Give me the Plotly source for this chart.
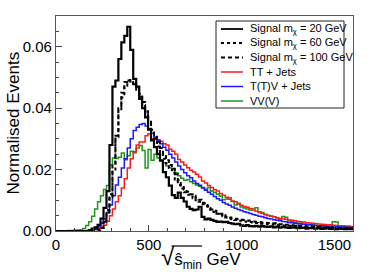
import numpy as np
import plotly.graph_objects as go

# ---- data (Normalised Events per 16 GeV bin, 0..1600 GeV) ----
BIN_LO = 0
BIN_HI = 1600
N_BINS = 100

sig20 = [0, 0, 0, 0, 0, 0, 0, 0, 0, 0,
         0, 0.0003, 0.0008, 0.0012, 0.002, 0.004, 0.0075, 0.013, 0.028, 0.047,
         0.049, 0.056, 0.0614, 0.0635, 0.0665, 0.059, 0.0495, 0.047, 0.043, 0.040,
         0.037, 0.033, 0.0295, 0.0273, 0.025, 0.023, 0.0192, 0.0175, 0.0148, 0.0117,
         0.0108, 0.0125, 0.0108, 0.0096, 0.0079, 0.0072, 0.0068, 0.0070, 0.0079, 0.0046,
         0.0038, 0.0040, 0.0036, 0.0033, 0.0030, 0.0031, 0.0029, 0.0030, 0.0026, 0.0024,
         0.0022, 0.0023, 0.0018, 0.0017, 0.0019, 0.0016, 0.0015, 0.0017, 0.0014, 0.0016,
         0.0014, 0.0013, 0.0015, 0.0012, 0.0014, 0.0011, 0.0013, 0.0012, 0.0010, 0.0012,
         0.0011, 0.0009, 0.0010, 0.0011, 0.0008, 0.0010, 0.0009, 0.0008, 0.0010, 0.0007,
         0.0008, 0.0009, 0.0007, 0.0008, 0.0006, 0.0008, 0.0007, 0.0006, 0.0007, 0.0006]

sig60 = [0, 0, 0, 0, 0, 0, 0, 0, 0, 0,
         0, 0, 0, 0, 0, 0.001, 0.0035, 0.0068, 0.011, 0.020,
         0.0305, 0.039, 0.0435, 0.0473, 0.049, 0.0484, 0.048, 0.047, 0.0445, 0.041,
         0.0385, 0.0355, 0.032, 0.030, 0.0275, 0.0255, 0.0235, 0.022, 0.0205, 0.019,
         0.0168, 0.0150, 0.0138, 0.0126, 0.0118, 0.0112, 0.0107, 0.0100, 0.0095, 0.0087,
         0.0082, 0.0075, 0.0068, 0.0062, 0.0056, 0.0052, 0.0048, 0.0044, 0.0041, 0.0038,
         0.0036, 0.0034, 0.0033, 0.0031, 0.0030, 0.0029, 0.0028, 0.0026, 0.0025, 0.0024,
         0.0023, 0.0022, 0.0022, 0.0021, 0.0020, 0.0019, 0.0018, 0.0018, 0.0017, 0.0016,
         0.0016, 0.0015, 0.0014, 0.0014, 0.0013, 0.0013, 0.0012, 0.0012, 0.0011, 0.0011,
         0.0010, 0.0010, 0.0010, 0.0009, 0.0009, 0.0009, 0.0008, 0.0008, 0.0008, 0.0007]

sig100 = [0, 0, 0, 0, 0, 0, 0, 0, 0, 0,
          0, 0, 0, 0, 0.0005, 0.001, 0.003, 0.006, 0.012, 0.022,
          0.031, 0.040, 0.045, 0.0485, 0.0492, 0.048, 0.0478, 0.046, 0.0437, 0.042,
          0.039, 0.036, 0.033, 0.031, 0.029, 0.027, 0.025, 0.023, 0.0215, 0.0203,
          0.0185, 0.0165, 0.0148, 0.0135, 0.0128, 0.0120, 0.0115, 0.0108, 0.0102, 0.0092,
          0.0085, 0.0080, 0.0070, 0.0066, 0.0060, 0.0056, 0.0052, 0.0047, 0.0044, 0.0041,
          0.0040, 0.0038, 0.0037, 0.0036, 0.0034, 0.0033, 0.0031, 0.0030, 0.0029, 0.0028,
          0.0027, 0.0026, 0.0025, 0.0025, 0.0024, 0.0022, 0.0021, 0.0020, 0.0020, 0.0019,
          0.0018, 0.0017, 0.0017, 0.0016, 0.0015, 0.0015, 0.0014, 0.0014, 0.0013, 0.0013,
          0.0012, 0.0012, 0.0011, 0.0011, 0.0010, 0.0010, 0.0010, 0.0009, 0.0009, 0.0009]

tt_jets = [0, 0, 0, 0, 0, 0, 0, 0, 0, 0,
           0, 0, 0.0003, 0.0005, 0.0008, 0.0012, 0.0019, 0.0032, 0.0050, 0.0072,
           0.0095, 0.0115, 0.0140, 0.0170, 0.0205, 0.0235, 0.0258, 0.0280, 0.0290, 0.0290,
           0.0310, 0.0317, 0.0300, 0.0306, 0.0297, 0.0292, 0.0284, 0.0280, 0.0266, 0.0260,
           0.0250, 0.0233, 0.0225, 0.0215, 0.0206, 0.0198, 0.0192, 0.0185, 0.0176, 0.0163,
           0.0156, 0.0148, 0.0142, 0.0134, 0.0130, 0.0122, 0.0116, 0.0110, 0.0103, 0.0098,
           0.0095, 0.0088, 0.0084, 0.0080, 0.0077, 0.0073, 0.0068, 0.0064, 0.0060, 0.0057,
           0.0054, 0.0050, 0.0049, 0.0046, 0.0043, 0.0041, 0.0040, 0.0038, 0.0036, 0.0035,
           0.0033, 0.0031, 0.0030, 0.0029, 0.0027, 0.0026, 0.0025, 0.0024, 0.0023, 0.0022,
           0.0021, 0.0020, 0.0020, 0.0019, 0.0018, 0.0017, 0.0017, 0.0016, 0.0016, 0.0015]

ttv_jets = [0, 0, 0, 0, 0, 0, 0, 0, 0, 0,
            0, 0.0003, 0.0005, 0.0009, 0.0014, 0.0025, 0.0040, 0.0060, 0.0085, 0.0115,
            0.0150, 0.0175, 0.0205, 0.0235, 0.0270, 0.0300, 0.0327, 0.0338, 0.0347, 0.0350,
            0.0342, 0.0333, 0.0318, 0.0305, 0.0295, 0.0284, 0.0273, 0.0263, 0.0250, 0.0238,
            0.0225, 0.0212, 0.0200, 0.0190, 0.0180, 0.0173, 0.0163, 0.0155, 0.0149, 0.0140,
            0.0133, 0.0126, 0.0120, 0.0112, 0.0105, 0.0100, 0.0093, 0.0088, 0.0084, 0.0078,
            0.0074, 0.0070, 0.0067, 0.0063, 0.0060, 0.0057, 0.0054, 0.0051, 0.0048, 0.0046,
            0.0043, 0.0041, 0.0039, 0.0037, 0.0035, 0.0033, 0.0031, 0.0030, 0.0028, 0.0027,
            0.0025, 0.0024, 0.0023, 0.0022, 0.0021, 0.0020, 0.0019, 0.0018, 0.0017, 0.0017,
            0.0016, 0.0015, 0.0015, 0.0014, 0.0014, 0.0013, 0.0013, 0.0012, 0.0012, 0.0011]

vvv = [0, 0, 0, 0, 0.0002, 0.0002, 0.0003, 0.0003, 0.0004, 0.0008,
       0.0018, 0.0030, 0.0048, 0.0072, 0.0095, 0.0115, 0.0135, 0.0148, 0.0215, 0.0238,
       0.0236, 0.0240, 0.0254, 0.0232, 0.0245, 0.0260, 0.0255, 0.0270, 0.0278, 0.0262,
       0.0205, 0.0265, 0.0230, 0.0250, 0.0238, 0.0228, 0.0222, 0.0212, 0.0206, 0.0200,
       0.0190, 0.0180, 0.0172, 0.0165, 0.0168, 0.0160, 0.0155, 0.0150, 0.0146, 0.0142,
       0.0136, 0.0142, 0.0130, 0.0125, 0.0120, 0.0113, 0.0102, 0.0104, 0.0108, 0.0096,
       0.0085, 0.0090, 0.0078, 0.0075, 0.0072, 0.0068, 0.0072, 0.0076, 0.0063, 0.0060,
       0.0054, 0.0051, 0.0048, 0.0046, 0.0042, 0.0037, 0.0047, 0.0045, 0.0034, 0.0030,
       0.0028, 0.0025, 0.0026, 0.0022, 0.0021, 0.0020, 0.0022, 0.0018, 0.0017, 0.0019,
       0.0020, 0.0016, 0.0015, 0.0030, 0.0029, 0.0014, 0.0017, 0.0015, 0.0012, 0.0013]

series_names = ["Signal m<sub>χ</sub> = 20 GeV", "Signal m<sub>χ</sub> = 60 GeV",
                "Signal m<sub>χ</sub> = 100 GeV", "TT + Jets", "T(T)V + Jets", "VV(V)"]

x_ticks = [0, 500, 1000, 1500]
y_ticks = [0.00, 0.02, 0.04, 0.06]

# ---- layout geometry (pixels) ----
W, H = 374, 272
ML, MR, MT, MB = 56, 21, 16, 41
PW, PH = W - ML - MR, H - MT - MB


def px_to_paper(px, py):
    return (px - ML) / PW, (H - MB - py) / PH


# ---- figure ----
edges = np.linspace(BIN_LO, BIN_HI, N_BINS + 1)

styles = [
    dict(color="black", width=2.2, dash="solid"),
    dict(color="black", width=2.0, dash="dot"),
    dict(color="black", width=2.0, dash="4px,3px"),
    dict(color="#ff1a1a", width=1.5, dash="solid"),
    dict(color="#1a1aff", width=1.5, dash="solid"),
    dict(color="#1f941f", width=1.5, dash="solid"),
]
data = [sig20, sig60, sig100, tt_jets, ttv_jets, vvv]

fig = go.Figure()
order = [5, 3, 4, 2, 1, 0]
for i in order:
    vals = list(data[i]) + [data[i][-1]]
    fig.add_trace(go.Scatter(
        x=edges, y=vals, mode="lines", line_shape="hv",
        line=styles[i], name=series_names[i], showlegend=False,
        hoverinfo="skip"))

FONT = "Liberation Sans, Arial, sans-serif"
fig.update_layout(
    width=W, height=H,
    margin=dict(l=ML, r=MR, t=MT, b=MB, autoexpand=False),
    paper_bgcolor="white", plot_bgcolor="white",
    font=dict(family=FONT, color="black"),
    showlegend=False,
    xaxis=dict(
        range=[BIN_LO, BIN_HI], tickvals=x_ticks, ticks="inside", ticklen=6,
        tickcolor="#444", showline=True, linecolor="#555", linewidth=1.2,
        mirror=True, showgrid=False, zeroline=False, automargin=False,
        tickfont=dict(size=15, family=FONT),
        minor=dict(dtick=100, ticks="inside", ticklen=3, tickcolor="#444", showgrid=False),
    ),
    yaxis=dict(
        range=[0, 0.07], tickvals=y_ticks, tickformat=".2f", ticks="inside", ticklen=6,
        tickcolor="#444", showline=True, linecolor="#555", linewidth=1.2,
        mirror=True, showgrid=False, zeroline=False, automargin=False,
        tickfont=dict(size=15, family=FONT),
        minor=dict(dtick=0.005, ticks="inside", ticklen=3, tickcolor="#444", showgrid=False),
    ),
)

# axis titles
tx, ty = px_to_paper(2, 123)
fig.add_annotation(xref="paper", yref="paper", x=tx, y=ty, textangle=-90,
                   xanchor="left", yanchor="middle",
                   text="Normalised Events", showarrow=False,
                   font=dict(size=17, family=FONT, color="black"))
tx, ty = px_to_paper(201, 241)
fig.add_annotation(
    xref="paper", yref="paper", x=tx, y=ty, xanchor="center", yanchor="top",
    text="<span style='font-size:24px'>√</span>ŝ<sub>min</sub> GeV",
    showarrow=False, font=dict(size=17, family=FONT, color="black"))
# radical overline
ox0, oy = px_to_paper(171.5, 246)
ox1, _ = px_to_paper(202, 246)
fig.add_shape(type="line", xref="paper", yref="paper", x0=ox0, x1=ox1, y0=oy, y1=oy,
              line=dict(color="black", width=1.2))

# legend box (drawn manually for ROOT-like compact spacing)
x0, y0 = px_to_paper(216, 21)
x1, y1 = px_to_paper(344, 108)
fig.add_shape(type="rect", xref="paper", yref="paper", x0=x0, y0=y1, x1=x1, y1=y0,
              line=dict(color="#222", width=1), fillcolor="white", layer="above")
row_y = [29, 43, 57.5, 72, 86.5, 101]
for i, name in enumerate(series_names):
    lx0, ly = px_to_paper(221, row_y[i])
    lx1, _ = px_to_paper(243, row_y[i])
    st = styles[i]
    fig.add_shape(type="line", xref="paper", yref="paper", x0=lx0, x1=lx1, y0=ly, y1=ly,
                  line=dict(color=st["color"], width=min(st["width"], 1.8), dash=st["dash"]),
                  layer="above")
    tx, _ = px_to_paper(248, row_y[i])
    fig.add_annotation(xref="paper", yref="paper", x=tx, y=ly, xanchor="left",
                       yanchor="middle", text=name, showarrow=False,
                       font=dict(size=11, family=FONT, color="black"))

fig.write_html("out.html", config={"displayModeBar": False},
               post_script="document.body.style.margin='0px';document.body.style.overflow='hidden';")
